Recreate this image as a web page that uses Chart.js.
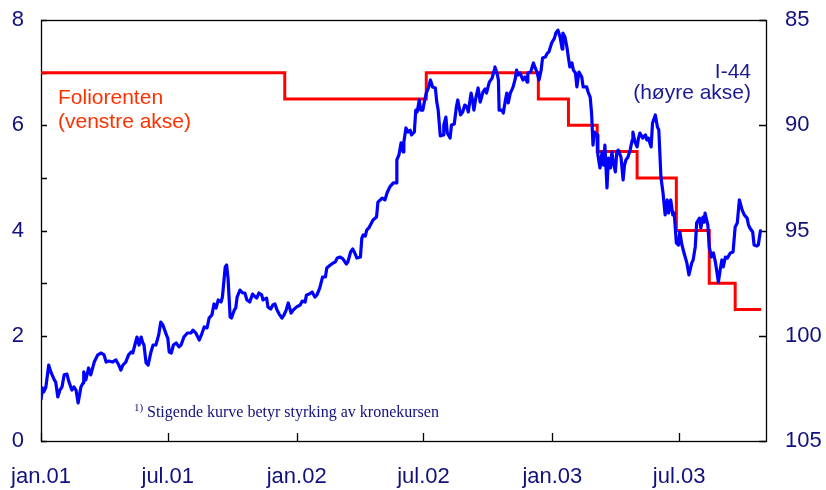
<!DOCTYPE html>
<html>
<head>
<meta charset="utf-8">
<script src="https://cdn.jsdelivr.net/npm/chart.js@4"></script>
<style>
  html, body { margin: 0; padding: 0; background: #fff; }
  canvas { display: block; }
</style>
</head>
<body>
<canvas id="c" width="826" height="490"></canvas>
<script>
// ============ Data ============
// x = days since 1 Jan 2001
const tickDays = [0, 181, 365, 546, 730, 911];
const tickLabels = ['jan.01', 'jul.01', 'jan.02', 'jul.02', 'jan.03', 'jul.03'];

// Foliorenten, left axis (percent); value holds from that day on
const folioDay = [0, 348, 550, 710, 753, 794, 851, 907, 954, 991, 1028];
const folioRate = [7.0, 6.5, 7.0, 6.5, 6.0, 5.5, 5.0, 4.0, 3.0, 2.5, 2.5];

// I-44, right axis (reversed)
const i44Day = [
  0, 2, 4, 7, 11, 14, 19, 21, 24, 27, 30, 33, 37, 40, 44, 47, 50, 53, 57, 60,
  61, 64, 68, 71, 76, 81, 86, 90, 93, 97, 102, 107, 111, 114, 117, 121, 125, 129, 131, 134,
  137, 140, 143, 145, 147, 150, 153, 157, 160, 164, 168, 171, 174, 179, 181, 183, 186, 189, 193, 197,
  200, 204, 209, 214, 217, 221, 226, 229, 233, 237, 240, 244, 247, 250, 253, 257, 259, 263, 265, 267,
  270, 272, 276, 278, 280, 284, 288, 291, 294, 298, 302, 306, 308, 311, 315, 317, 322, 324, 328, 331,
  334, 337, 340, 344, 347, 350, 353, 357, 360, 365, 370, 373, 377, 379, 383, 387, 391, 394, 398, 402,
  406, 408, 413, 417, 420, 423, 427, 431, 436, 438, 442, 445, 448, 451, 456, 458, 460, 463, 465, 468,
  474, 479, 481, 487, 491, 494, 498, 503, 507, 508, 511, 514, 517, 518, 521, 524, 527, 529, 533, 535,
  537, 540, 542, 545, 547, 550, 553, 556, 559, 563, 565, 567, 570, 574, 575, 578, 580, 584, 586, 590,
  593, 595, 599, 602, 605, 608, 610, 614, 616, 618, 621, 624, 627, 631, 634, 636, 640, 644, 647, 648,
  651, 653, 654, 658, 660, 663, 665, 667, 670, 672, 674, 677, 679, 681, 684, 688, 691, 694, 695, 699,
  703, 705, 708, 711, 714, 716, 720, 723, 725, 729, 733, 735, 738, 741, 744, 745, 748, 751, 753, 755,
  758, 760, 763, 765, 768, 772, 774, 779, 781, 784, 786, 788, 790, 794, 795, 798, 801, 803, 805, 808,
  810, 813, 815, 817, 820, 822, 824, 828, 831, 833, 835, 838, 841, 844, 845, 848, 851, 853, 855, 859,
  863, 865, 867, 871, 873, 877, 880, 882, 885, 888, 891, 894, 896, 899, 902, 904, 907, 910, 912, 915,
  918, 922, 925, 929, 931, 934, 936, 940, 942, 945, 947, 948, 952, 954, 957, 960, 963, 967, 970, 972,
  974, 977, 980, 984, 988, 991, 994, 997, 1001, 1004, 1008, 1010, 1012, 1016, 1018, 1022, 1024, 1027, 1029
];
const i44Val = [
  103.05, 102.48, 102.67, 102.43, 101.39, 101.72, 102.10, 102.20, 102.91, 102.58, 102.43, 101.86, 101.82, 102.20, 102.58, 102.43, 102.58, 103.19, 102.43, 102.24,
  101.72, 102.10, 101.53, 101.86, 101.25, 100.91, 100.82, 100.91, 101.25, 101.20, 101.25, 101.15, 101.39, 101.63, 101.39, 101.25, 100.91, 100.77, 100.82, 100.44,
  100.06, 100.44, 100.06, 100.30, 100.44, 101.29, 101.39, 100.77, 100.44, 100.44, 99.96, 99.35, 99.49, 99.96, 100.11, 100.77, 100.82, 100.44, 100.34, 100.53,
  100.44, 100.06, 99.87, 99.87, 99.73, 99.87, 100.20, 99.96, 99.58, 99.63, 99.16, 99.01, 98.49, 98.68, 98.30, 98.40, 98.16, 96.73, 96.64, 97.26,
  99.11, 99.16, 98.78, 98.68, 98.16, 97.83, 97.97, 97.97, 98.30, 98.40, 98.02, 98.16, 98.21, 97.97, 98.06, 98.30, 98.21, 98.63, 98.73, 98.54,
  98.49, 98.78, 98.97, 99.16, 99.01, 98.78, 98.44, 98.92, 98.78, 98.63, 98.54, 98.35, 98.40, 98.06, 98.02, 97.92, 98.16, 98.06, 97.73, 97.21,
  97.21, 96.78, 96.64, 96.54, 96.50, 96.31, 96.26, 96.35, 96.59, 96.50, 96.02, 95.88, 96.07, 96.31, 96.26, 95.36, 95.21, 95.26, 94.98, 94.88,
  94.50, 94.36, 93.65, 93.46, 93.55, 93.22, 92.93, 92.74, 92.74, 91.65, 91.41, 90.84, 91.27, 90.80, 90.13, 90.32, 90.23, 90.46, 90.32, 89.28,
  89.37, 88.80, 89.28, 89.28, 88.94, 88.47, 88.23, 87.85, 88.18, 88.23, 88.90, 89.28, 90.51, 90.46, 89.99, 89.61, 90.37, 90.61, 89.99, 89.94,
  89.13, 88.80, 89.51, 89.37, 89.04, 89.13, 89.37, 88.47, 88.80, 89.28, 88.66, 88.23, 88.90, 88.42, 88.28, 88.47, 87.95, 87.76, 87.38, 87.23,
  87.52, 87.85, 89.28, 89.28, 89.42, 88.80, 88.47, 88.94, 88.47, 88.33, 88.18, 87.80, 87.38, 87.61, 87.52, 87.85, 87.71, 87.95, 87.52, 87.47,
  87.04, 87.23, 87.47, 87.85, 87.38, 86.81, 86.76, 86.57, 86.52, 86.09, 85.86, 85.62, 85.48, 85.81, 86.38, 85.62, 85.81, 86.33, 86.81, 87.23,
  87.04, 87.38, 87.52, 88.18, 87.47, 87.71, 88.18, 88.18, 88.42, 88.66, 89.42, 90.94, 90.32, 90.46, 91.41, 92.03, 91.27, 91.89, 90.94, 92.98,
  91.56, 92.03, 91.27, 91.75, 92.22, 91.27, 91.18, 91.51, 92.60, 91.89, 91.65, 91.51, 91.18, 90.70, 90.32, 90.80, 91.03, 90.61, 90.37, 90.61,
  90.46, 90.70, 90.61, 91.03, 89.89, 89.51, 90.08, 90.23, 92.46, 93.22, 94.26, 93.55, 94.17, 93.55, 94.26, 94.17, 95.59, 95.69, 95.07, 95.69,
  96.07, 96.54, 97.11, 96.54, 96.40, 95.78, 94.64, 94.41, 94.88, 94.36, 94.60, 94.17, 94.74, 95.78, 96.26, 96.07, 96.54, 97.45, 96.78, 96.40,
  96.73, 96.26, 96.31, 96.07, 96.02, 94.83, 94.64, 93.55, 94.03, 94.26, 94.41, 94.74, 94.88, 95.07, 95.69, 95.74, 95.69, 95.02, 95.02
];

// ============ Plugins ============
const NAVY = '#10107e';

const frame = {
  id: 'frame',
  beforeDatasetsDraw(chart) {
    const { ctx, chartArea: a, scales } = chart;
    ctx.save();
    ctx.strokeStyle = '#000';
    ctx.lineWidth = 1.3;
    ctx.beginPath();
    scales.y.ticks.forEach(t => {
      const y = Math.round(scales.y.getPixelForValue(t.value)) + 0.5;
      ctx.moveTo(a.left, y); ctx.lineTo(a.left + 6, y);
    });
    scales.y2.ticks.forEach(t => {
      const y = Math.round(scales.y2.getPixelForValue(t.value)) + 0.5;
      ctx.moveTo(a.right, y); ctx.lineTo(a.right - 7, y);
    });
    scales.x.ticks.forEach(t => {
      const x = Math.round(scales.x.getPixelForValue(t.value)) + 0.5;
      ctx.moveTo(x, a.bottom); ctx.lineTo(x, a.bottom - 8);
    });
    ctx.stroke();
    ctx.strokeRect(Math.round(a.left) + 0.5, Math.round(a.top) + 0.5,
      Math.round(a.right - a.left), Math.round(a.bottom - a.top));
    ctx.restore();
  }
};

const notes = {
  id: 'notes',
  afterDraw(chart) {
    const { ctx } = chart;
    ctx.save();
    ctx.font = '21px "Liberation Sans", Arial, sans-serif';
    ctx.fillStyle = '#ff3000';
    ctx.textAlign = 'left';
    ctx.fillText('Foliorenten', 58, 104);
    ctx.fillText('(venstre akse)', 58, 128);

    ctx.fillStyle = '#1a1a96';
    ctx.textAlign = 'right';
    ctx.fillText('I-44', 751, 78);
    ctx.fillText('(høyre akse)', 751, 99);

    ctx.textAlign = 'left';
    ctx.fillStyle = NAVY;
    ctx.font = '11px "Liberation Serif", "Times New Roman", serif';
    ctx.fillText('1)', 134, 411);
    ctx.font = '16px "Liberation Serif", "Times New Roman", serif';
    ctx.fillText('Stigende kurve betyr styrking av kronekursen', 147, 417);
    ctx.restore();
  }
};

// ============ Chart ============
const tickFont = { family: '"Liberation Sans", Arial, sans-serif', size: 22 };
function noPad(s) {
  s.paddingLeft = 0; s.paddingRight = 0; s.paddingTop = 0; s.paddingBottom = 0;
}

new Chart(document.getElementById('c'), {
  type: 'line',
  data: {
    datasets: [
      {
        label: 'I-44',
        data: i44Day.map((d, i) => ({ x: d, y: i44Val[i] })),
        yAxisID: 'y2',
        borderColor: '#0000ff',
        borderWidth: 3.2,
        borderJoinStyle: 'round',
        pointRadius: 0,
        tension: 0
      },
      {
        label: 'Foliorenten',
        data: folioDay.map((d, i) => ({ x: d, y: folioRate[i] })),
        yAxisID: 'y',
        borderColor: '#ff0000',
        borderWidth: 3,
        pointRadius: 0,
        stepped: true
      }
    ]
  },
  options: {
    responsive: false,
    animation: false,
    layout: { padding: { top: 20, left: 0, right: 0, bottom: 0 } },
    plugins: { legend: { display: false }, tooltip: { enabled: false } },
    scales: {
      x: {
        type: 'linear',
        min: 0,
        max: 1035,
        afterBuildTicks(s) { s.ticks = tickDays.map(v => ({ value: v })); },
        afterFit(s) { s.height = 49; noPad(s); },
        grid: { display: false, drawTicks: false },
        border: { display: false },
        ticks: {
          font: tickFont,
          color: NAVY,
          padding: 23,
          maxRotation: 0,
          autoSkip: false,
          callback: (v) => tickLabels[tickDays.indexOf(v)]
        }
      },
      y: {
        position: 'left',
        min: 0,
        max: 8,
        afterFit(s) { s.width = 41; noPad(s); },
        grid: { display: false, drawTicks: false },
        border: { display: false },
        ticks: {
          stepSize: 1,
          font: tickFont,
          color: NAVY,
          padding: 17,
          callback: (v) => (v % 2 === 0 ? String(v) : '')
        }
      },
      y2: {
        position: 'right',
        min: 85,
        max: 105,
        reverse: true,
        afterFit(s) { s.width = 60; noPad(s); },
        grid: { display: false, drawTicks: false },
        border: { display: false },
        ticks: {
          stepSize: 5,
          font: tickFont,
          color: NAVY,
          padding: 19
        }
      }
    }
  },
  plugins: [frame, notes]
});
</script>
</body>
</html>
